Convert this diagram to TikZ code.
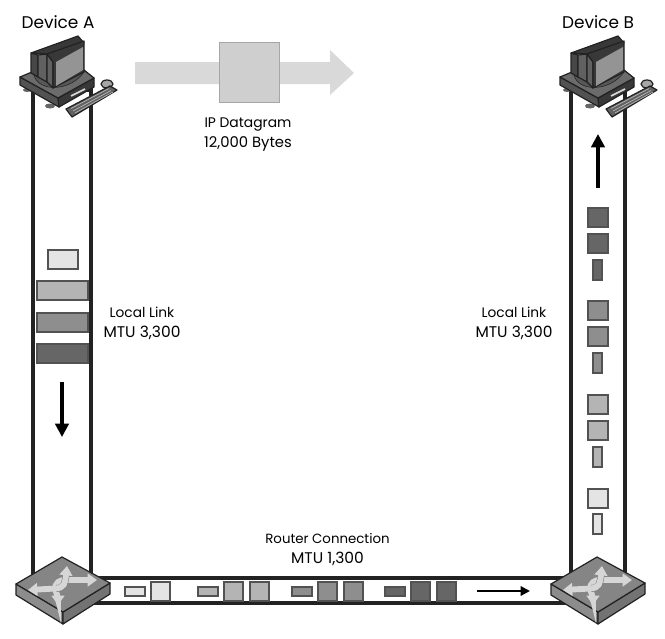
\documentclass[tikz,border=0pt]{standalone}
\usepackage{fontspec}
\setmainfont{Poppins}
\usetikzlibrary{arrows.meta}
\definecolor{ln}{HTML}{222222}
\definecolor{pa}{HTML}{E4E4E4}
\definecolor{pb}{HTML}{B4B4B4}
\definecolor{pc}{HTML}{8E8E8E}
\definecolor{pd}{HTML}{666666}
\newcommand{\szA}{\fontsize{10.3}{15}\selectfont}
\newcommand{\szB}{\fontsize{11.6}{15}\selectfont}
\tikzset{
  x=0.75pt,y=-0.75pt,
  linkstrip/.style={draw=ln,line width=2.4pt,fill=white},
  pkt/.style={draw=black!68,fill=#1,line width=1.5pt},
  lbl/.style={align=center,text=black,inner sep=0pt},
  devlbl/.style={font=\fontsize{12.7}{14}\selectfont,text=black,inner sep=0pt},
  flow/.style={draw=black,line width=2.4pt,-{Triangle[length=10pt,width=10pt]}},
  flowsmall/.style={draw=black,line width=1.6pt,-{Triangle[length=7pt,width=7pt]}},
  ol/.style={draw=ln,line width=0.9pt,line join=round},
  band/.style={draw=black!16,line width=4.4pt},
  bandedge/.style={draw=black!50,line width=5.2pt},
  bandtip/.style={-{Triangle[length=7pt,width=9.5pt]}},
  computer/.pic={
    % feet
    \path[fill=black!60] (27,90) ellipse [x radius=4,y radius=2];
    \path[fill=black!60] (50,106) ellipse [x radius=5,y radius=2.5];
    % base
    \path[ol,fill=black!68] (20,77) -- (20,85) -- (59,107) -- (58,98) -- cycle;
    \path[ol,fill=black!78] (58,98) -- (94,78) -- (94,87) -- (59,107) -- cycle;
    \path[ol,fill=black!58] (20,77) -- (32,72) -- (84,70) -- (94,78) -- (58,98) -- cycle;
    \path[fill=black!66,draw=ln,line width=0.4pt] (34,75) .. controls (38,92) and (70,92) .. (84,72) -- cycle;
    \path[draw=black!15,line width=1.2pt] (71,96) -- (85,89);
    % monitor
    \path[ol,fill=black!72] (31,53) -- (38,55) -- (38,77) -- (31,73) -- cycle;
    \path[ol,fill=black!62] (38,55) -- (47,54) -- (47,82) -- (38,77) -- cycle;
    \path[ol,fill=black!78] (31,53) -- (78,36) -- (84,43) -- (47,54) -- cycle;
    \path[ol,fill=black!62] (47,54) -- (53,62) -- (53,88) -- (47,82) -- cycle;
    \path[ol,fill=black!78] (47,54) -- (84,41) -- (84,72) -- (53,88) -- (53,62) -- cycle;
    \path[draw=none,fill=black!42] (56,62) -- (83,47) -- (83,70) -- (56,86) -- cycle;
    % keyboard
    \path[ol,fill=black!35] (107,84) ellipse [x radius=6,y radius=4];
    \path[ol,fill=black!62] (66,109) -- (110,86) -- (117,90) -- (72,117) -- cycle;
    \path[draw=black!28,line width=0.5pt] (71,108.5) -- (109,88.5) (73,111) -- (111,90.5) (75,113) -- (113,92);
  },
  routerpic/.pic={
    \path[ol,fill=black!45] (-46,27) -- (-46,38) -- (1,67) -- (1,55) -- cycle;
    \path[ol,fill=black!55] (48,26) -- (48,37) -- (1,67) -- (1,55) -- cycle;
    \path[ol,fill=black!48] (0,0) -- (48,26) -- (1,55) -- (-46,27) -- cycle;
    % strand from the bottom arrow into the right arrow
    \path[band,bandtip] (-7,33) .. controls (-7,25) and (-2,23) .. (3,23) -- (35,23);
    \path[band,bandtip] (-7,30) .. controls (-6.5,36) and (-4,38) .. (-4,42) -- (-4,48);
    % strand from the left arrow into the top arrow
    \path[bandedge] (-6,31.5) .. controls (3,31) and (3,26) .. (4,18);
    \path[band,bandtip] (-8,31.5) .. controls (3,31.5) and (3,26) .. (4,18) -- (5,9);
    \path[band,bandtip] (-6,31.5) -- (-34,33);
  }
}
\begin{document}
\begin{tikzpicture}
\useasboundingbox (0,0) rectangle (665,639);
\path[fill=white] (0,0) rectangle (665,639);
% datagram
\path[fill=black!15] (135,62) -- (330,62) -- (330,50) -- (354,73) -- (330,95) -- (330,84) -- (135,84) -- cycle;
\node[draw=black!35,fill=black!19,line width=0.8pt,minimum width=45pt,minimum height=45.5pt,inner sep=0pt] (dgram) at (249.5,72.5) {};
\node[lbl] (dlabel) at (248,135) {\fontsize{10.4}{15}\selectfont IP Datagram\\[3pt]\fontsize{11.1}{15}\selectfont 12,000 Bytes};
% link strips
\path[linkstrip] (33,90) rectangle (91,590);
\path[linkstrip] (571,90) rectangle (625,590);
\path[linkstrip] (60,578) rectangle (600,603);
% left packets
\path[pkt=pa] (48,250) rectangle (78,269);
\path[pkt=pb] (37,281) rectangle (88,300);
\path[pkt=pc] (37,313) rectangle (88,332);
\path[pkt=pd] (37,344) rectangle (88,363);
\coordinate (la) at (62,382); \coordinate (lb) at (62,437);
\draw[flow] (la) -- (lb);
% right packets
\foreach \y/\c in {208/pd,234/pd,301/pc,327/pc,395/pb,421/pb,489/pa}
  \path[pkt=\c] (588,\y) rectangle (608,\y+19);
\foreach \y/\c in {260/pd,353/pc,447/pb,514/pa}
  \path[pkt=\c] (593,\y) rectangle (602,\y+20);
\coordinate (ra) at (598,188); \coordinate (rb) at (598,134);
\draw[flow] (ra) -- (rb);
% bottom packets
\foreach \x/\c in {125/pa,198/pb,292/pc,385/pd}
  \path[pkt=\c] (\x,587) rectangle (\x+20,596);
\foreach \x/\c in {151/pa,224/pb,250/pb,318/pc,344/pc,411/pd,437/pd}
  \path[pkt=\c] (\x,582) rectangle (\x+19,601);
\coordinate (ba) at (477,591); \coordinate (bb) at (530,591);
\draw[flowsmall] (ba) -- (bb);
% devices and routers
\pic (deva) at (0,0) {computer};
\pic (devb) at (540,0) {computer};
\pic (r1) at (62,557) {routerpic};
\pic (r2) at (597,557) {routerpic};
% labels
\node[devlbl] (da) at (58,22) {Device A};
\node[devlbl] (db) at (598,22) {Device B};
\node[lbl] (ll) at (142,323) {\szA Local Link\\[3pt]\szB MTU 3,300};
\node[lbl] (rl) at (514,323) {\szA Local Link\\[3pt]\szB MTU 3,300};
\node[lbl] (rc) at (327.5,550) {\fontsize{10}{15}\selectfont Router Connection\\[3pt]\szB MTU 1,300};
\end{tikzpicture}
\end{document}
